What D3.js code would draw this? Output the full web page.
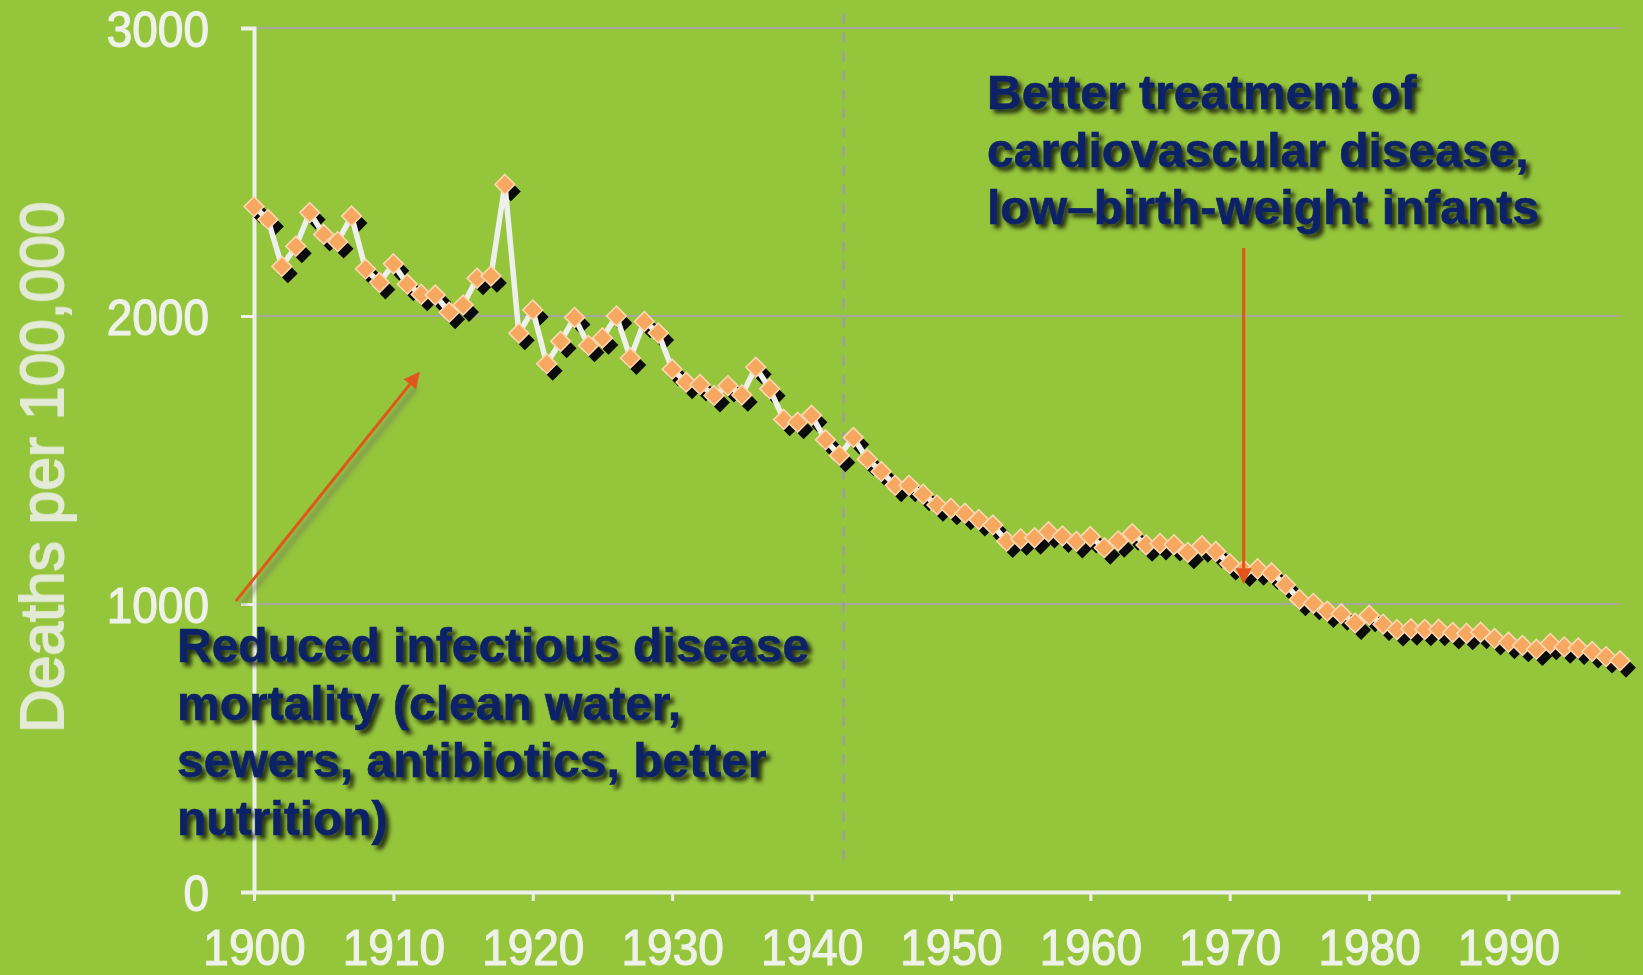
<!DOCTYPE html>
<html>
<head>
<meta charset="utf-8">
<script src="https://cdn.jsdelivr.net/npm/d3@7"></script>
<style>
  body { margin: 0; background: #95c53b; overflow: hidden; }
  svg { display: block; }
</style>
</head>
<body>
<script>
var width = 1643;
var height = 975;

// years and death rate
var years = [1900,1901,1902,1903,1904,1905,1906,1907,1908,1909,
  1910,1911,1912,1913,1914,1915,1916,1917,1918,1919,
  1920,1921,1922,1923,1924,1925,1926,1927,1928,1929,
  1930,1931,1932,1933,1934,1935,1936,1937,1938,1939,
  1940,1941,1942,1943,1944,1945,1946,1947,1948,1949,
  1950,1951,1952,1953,1954,1955,1956,1957,1958,1959,
  1960,1961,1962,1963,1964,1965,1966,1967,1968,1969,
  1970,1971,1972,1973,1974,1975,1976,1977,1978,1979,
  1980,1981,1982,1983,1984,1985,1986,1987,1988,1989,
  1990,1991,1992,1993,1994,1995,1996,1997,1998];
var deaths = [2380,2335,2172,2242,2359,2283,2258,2347,2163,2116,
  2181,2110,2075,2073,2013,2038,2131,2139,2457,1940,
  2021,1834,1912,1995,1898,1924,2000,1854,1981,1941,
  1815,1770,1762,1724,1758,1726,1822,1747,1641,1631,
  1655,1570,1516,1578,1503,1460,1412,1412,1381,1344,
  1332,1315,1293,1274,1218,1226,1230,1251,1236,1217,
  1234,1195,1219,1244,1205,1210,1206,1179,1202,1182,
  1140,1118,1122,1108,1067,1016,1002,975,966,934,
  961,930,911,914,912,912,901,898,902,880,
  867,856,843,863,851,847,835,817,803];

var xTicks = [1900,1910,1920,1930,1940,1950,1960,1970,1980,1990];
var yTicks = [0,1000,2000,3000];
var yTitle = "Deaths per 100,000";

// dashed divider (year, from value, to value)
var divider = [1942.3, 3050, 85];

// annotations: arrows in data units [x1,y1,x2,y2]
var arrowInfectious = [1898.7, 1010, 1911.9, 1806];
var arrowCardio = [1971.0, 2236, 1971.0, 1069];
var textInfectious = ["Reduced infectious disease", "mortality (clean water,", "sewers, antibiotics, better", "nutrition)"];
var textCardio = ["Better treatment of", "cardiovascular disease,", "low\u2013birth-weight infants"];

var data = years.map(function(d, i){ return {year: d, value: deaths[i]}; });

var svg = d3.select("body").append("svg")
  .attr("width", width)
  .attr("height", height);

var defs = svg.append("defs");
var shadow = defs.append("filter").attr("id", "txtShadow")
  .attr("x", "-5%").attr("y", "-10%").attr("width", "115%").attr("height", "130%");
shadow.append("feDropShadow")
  .attr("dx", 4).attr("dy", 4).attr("stdDeviation", 2)
  .attr("flood-color", "#000").attr("flood-opacity", 0.75);

var blur = defs.append("filter").attr("id", "softBlur");
blur.append("feGaussianBlur").attr("stdDeviation", 2.5);

var soft = defs.append("filter").attr("id", "soft")
  .attr("x", "-10%").attr("y", "-20%").attr("width", "120%").attr("height", "140%");
soft.append("feGaussianBlur").attr("stdDeviation", 0.6);

svg.append("rect")
  .attr("width", width)
  .attr("height", height)
  .attr("fill", "#95c53b");

var x = d3.scaleLinear().domain([1900, 1998]).range([254, 1620]);
var y = d3.scaleLinear().domain([0, 3000]).range([892, 28]);

// gridlines
svg.append("g")
  .selectAll("line")
  .data(yTicks.filter(function(d){ return d > 0; }))
  .enter().append("line")
  .attr("x1", x(1900))
  .attr("x2", x(1998))
  .attr("y1", function(d){ return y(d); })
  .attr("y2", function(d){ return y(d); })
  .attr("stroke", "#a5a89c")
  .attr("stroke-width", 1.8);

// dashed vertical line
svg.append("line")
  .attr("x1", x(divider[0])).attr("x2", x(divider[0]))
  .attr("y1", y(divider[1])).attr("y2", y(divider[2]))
  .attr("stroke", "#9a9cb0")
  .attr("stroke-width", 2.2)
  .attr("stroke-dasharray", "10,9");

// axes
var yAxis = d3.axisLeft(y)
  .tickValues(yTicks)
  .tickSizeInner(13)
  .tickSizeOuter(13)
  .tickPadding(32)
  .tickFormat(d3.format("d"));

var xAxis = d3.axisBottom(x)
  .tickValues(xTicks)
  .tickSizeInner(9)
  .tickSizeOuter(0)
  .tickPadding(27)
  .tickFormat(d3.format("d"));

var gy = svg.append("g")
  .attr("transform", "translate(" + x(1900) + ",0)")
  .call(yAxis);

var gx = svg.append("g")
  .attr("transform", "translate(0," + y(0) + ")")
  .call(xAxis);

[gx, gy].forEach(function(g){
  g.select(".domain").attr("stroke", "#eef1ea").attr("stroke-width", 4);
  g.selectAll(".tick line").attr("stroke", "#eef1ea").attr("stroke-width", 3);
  g.selectAll(".tick text")
    .attr("fill", "#eef2e8")
    .attr("stroke", "#eef2e8")
    .attr("stroke-width", 1.1)
    .attr("font-family", "Liberation Sans, Arial, sans-serif")
    .attr("font-size", 46)
    .attr("filter", "url(#soft)");
});
gy.selectAll(".tick text").attr("transform", "translate(0,2) scale(1,1.1)");
gx.selectAll(".tick text").attr("transform", "translate(0,-3) scale(1,1.1)");

// y axis title
svg.append("text")
  .attr("transform", "translate(63," + y(1475) + ") rotate(-90)")
  .attr("text-anchor", "middle")
  .attr("font-family", "Liberation Sans, Arial, sans-serif")
  .attr("font-size", 60.5)
  .attr("fill", "#e3eAd6")
  .attr("stroke", "#e3eAd6")
  .attr("stroke-width", 1.8)
  .attr("filter", "url(#soft)")
  .text(yTitle);

// line and markers
var line = d3.line()
  .x(function(d){ return x(d.year); })
  .y(function(d){ return y(d.value); });

var diamond = d3.symbol().type(d3.symbolDiamond2).size(250);

svg.append("g")
  .selectAll("path")
  .data(data)
  .enter().append("path")
  .attr("d", diamond)
  .attr("transform", function(d){ return "translate(" + (x(d.year) + 6) + "," + (y(d.value) + 7) + ")"; })
  .attr("fill", "#0b0b0b");

svg.append("path")
  .datum(data)
  .attr("d", line)
  .attr("fill", "none")
  .attr("stroke", "#eef0ec")
  .attr("stroke-width", 5.5)
  .attr("stroke-linejoin", "round");

svg.append("g")
  .selectAll("path")
  .data(data)
  .enter().append("path")
  .attr("d", diamond)
  .attr("transform", function(d){ return "translate(" + x(d.year) + "," + y(d.value) + ")"; })
  .attr("fill", "#f7a860")
  .attr("stroke", "#fbd8b2")
  .attr("stroke-width", 1.6);

// arrows
function draw_arrow(a){
  var x1 = x(a[0]), y1 = y(a[1]), x2 = x(a[2]), y2 = y(a[3]);
  var ang = Math.atan2(y2 - y1, x2 - x1);
  var len = 16, half = 8;
  var bx = x2 - len * Math.cos(ang), by = y2 - len * Math.sin(ang);
  var head = [
    [x2, y2],
    [bx + half * Math.sin(ang), by - half * Math.cos(ang)],
    [bx - half * Math.sin(ang), by + half * Math.cos(ang)]
  ];
  var g = svg.append("g");
  g.append("line")
    .attr("x1", x1 + 6).attr("y1", y1 + 3).attr("x2", bx + 6).attr("y2", by + 3)
    .attr("stroke", "#6f7b5e").attr("stroke-opacity", 0.6)
    .attr("stroke-width", 5).attr("filter", "url(#softBlur)");
  g.append("line")
    .attr("x1", x1).attr("y1", y1).attr("x2", bx).attr("y2", by)
    .attr("stroke", "#e0561b").attr("stroke-width", 3);
  g.append("path")
    .attr("d", "M" + head.join("L") + "Z")
    .attr("fill", "#e0561b");
}
draw_arrow(arrowInfectious);
draw_arrow(arrowCardio);

// annotation text blocks
function draw_note(lines, left, top){
  var t = svg.append("text")
    .attr("font-family", "Liberation Sans, Arial, sans-serif")
    .attr("font-weight", "bold")
    .attr("font-size", 48)
    .attr("fill", "#0c2266")
    .attr("stroke", "#0c2266")
    .attr("stroke-width", 0.6)
    .attr("filter", "url(#txtShadow)");
  t.selectAll("tspan")
    .data(lines)
    .enter().append("tspan")
    .attr("x", left)
    .attr("y", function(d, i){ return top + i * 57.5; })
    .text(function(d){ return d; });
}
draw_note(textInfectious, 177, 662);
draw_note(textCardio, 987, 109);
</script>
</body>
</html>
